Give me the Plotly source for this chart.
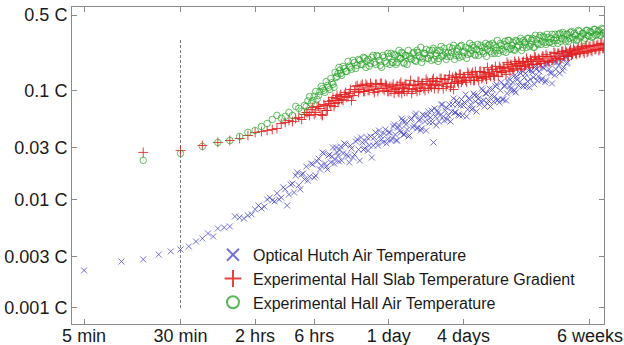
import plotly.graph_objects as go

# ---------------------------------------------------------------------------
# Averaging time (hours), main grid shared by the two Experimental Hall series
# ---------------------------------------------------------------------------
tau_early = [0.25, 0.5, 0.75, 1, 1.25, 1.5, 1.75, 2, 2.25, 2.5, 2.75, 3, 3.25, 3.5,
             3.75, 4, 4.25, 4.5, 4.75, 5]
tau_mid = [5.33, 5.67, 6, 6.33, 6.67, 7, 7.33, 7.67, 8, 8.33, 8.67, 9, 9.33, 9.67, 10,
           10.5, 11, 11.5, 12, 12.67, 13.33, 14, 14.67, 15.33, 16, 16.67, 17.5, 18.33,
           19.17, 20, 21, 22, 23, 24]
tau_long = [25, 26, 27, 28, 29, 30, 31, 32, 33, 34.5, 36, 37.5, 39, 40.5, 42, 43.5, 45,
            47, 49, 51, 53, 55, 57, 59, 61, 63.5, 66, 68.5, 71, 74, 77, 80, 83, 86, 89,
            92.5, 96, 100, 104, 108, 112, 116, 120, 125, 130, 135, 140, 145, 150, 156,
            162, 168, 174, 180, 187, 194, 201, 208, 216, 224, 232, 240, 249, 258, 268,
            278, 288, 299, 310, 322, 334, 346, 359, 372, 386, 400, 415, 430, 446, 463,
            480, 498, 516, 535, 555, 576, 597, 619, 642, 666, 690, 716, 742, 770, 798,
            828, 858, 890, 923, 957, 992, 1029, 1067, 1106, 1147, 1190, 1234, 1280, 1310]
tau = tau_early + tau_mid + tau_long

# Intermediate averaging times (hours)
tau_mid_b = [5.17, 5.5, 5.83, 6.17, 6.5, 6.83, 7.17, 7.5, 7.83, 8.17, 8.5, 8.83, 9.17,
             9.5, 9.83, 10.25, 10.75, 11.25, 11.75, 12.33, 13, 13.67, 14.33, 15, 15.67,
             16.33, 17.08, 17.92, 18.75, 19.58, 20.5, 21.5, 22.5, 23.5, 24.5]
tau_long_b = [25.5, 26.5, 27.5, 28.5, 29.5, 30.5, 31.5, 32.5, 33.7, 35.2, 36.7, 38.2,
              39.7, 41.2, 42.7, 44.2, 46, 48, 50, 52, 54, 56, 58, 60, 62.2, 64.7, 67.2,
              69.7, 72.5, 75.5, 78.5, 81.5, 84.5, 87.5, 90.7, 94.2, 98, 102, 106, 110,
              114, 118, 122.5, 127.5, 132.5, 137.5, 142.5, 147.5, 153, 159, 165, 171,
              177, 183.5, 190.5, 197.5, 204.5, 212, 220, 228, 236, 244.5, 253.5, 263,
              273, 283, 293.5, 304.5, 316, 328, 340, 352.5, 365.5, 379, 393, 407.5,
              422.5, 438, 454.5, 471.5, 489, 507, 525.5, 545, 565.5, 586.5, 608, 630.5,
              654, 678, 703, 729, 756, 784, 813, 843, 874, 906.5, 940, 974.5, 1010.5,
              1048, 1086.5, 1126.5, 1168.5, 1212, 1257, 1295]

# ---------------------------------------------------------------------------
# Experimental Hall Air Temperature (C)
# ---------------------------------------------------------------------------
hall_air_early = [0.0229, 0.0265, 0.0308, 0.0335, 0.0349, 0.0381, 0.0415, 0.0432, 0.047,
                  0.050, 0.0546, 0.0595, 0.056, 0.0583, 0.0634, 0.0595, 0.072, 0.069,
                  0.0648, 0.0735]
hall_air_mid = [0.081, 0.0767, 0.0891, 0.0836, 0.0985, 0.105, 0.097, 0.112, 0.103, 0.119,
                0.108, 0.133, 0.145, 0.155, 0.139, 0.161, 0.151, 0.169, 0.158, 0.183,
                0.172, 0.191, 0.175, 0.200, 0.188, 0.169, 0.204, 0.183, 0.212, 0.191,
                0.165, 0.204, 0.180, 0.208]
hall_air_long = [0.2216, 0.183, 0.2125, 0.183, 0.236, 0.1993, 0.2216, 0.179, 0.2125, 0.236,
                 0.1993, 0.2216, 0.191, 0.236, 0.2125, 0.252, 0.1993, 0.2216, 0.1993, 0.236,
                 0.191, 0.2465, 0.2125, 0.236, 0.1993, 0.257, 0.2125, 0.2264, 0.208, 0.252,
                 0.2264, 0.2626, 0.2125, 0.2465, 0.2036, 0.2626, 0.2264, 0.252, 0.217, 0.274,
                 0.236, 0.252, 0.2125, 0.268, 0.231, 0.252, 0.2216, 0.274, 0.241, 0.268,
                 0.2216, 0.2626, 0.236, 0.292, 0.236, 0.2626, 0.231, 0.286, 0.257, 0.292,
                 0.2465, 0.280, 0.236, 0.286, 0.2626, 0.3047, 0.252, 0.280, 0.252, 0.3047,
                 0.268, 0.3047, 0.252, 0.298, 0.268, 0.325, 0.286, 0.311, 0.268, 0.311,
                 0.280, 0.332, 0.292, 0.311, 0.274, 0.339, 0.3047, 0.332, 0.286, 0.332,
                 0.3047, 0.3535, 0.298, 0.325, 0.298, 0.3535, 0.318, 0.339, 0.3047, 0.361,
                 0.318, 0.346, 0.318, 0.369, 0.332, 0.361, 0.325, 0.369, 0.346]
hall_air_mid_b = [0.0718, 0.0888, 0.0816, 0.0988, 0.0907, 0.110, 0.101, 0.122, 0.108, 0.130,
                  0.115, 0.148, 0.136, 0.1646, 0.145, 0.168, 0.151, 0.187, 0.1646, 0.191,
                  0.161, 0.195, 0.1755, 0.2036, 0.1646, 0.195, 0.179, 0.2125, 0.1755, 0.208,
                  0.1718, 0.2125, 0.187, 0.2216, 0.1755]
hall_air_long_b = [0.183, 0.217, 0.1755, 0.208, 0.1993, 0.2264, 0.183, 0.2125, 0.1755, 0.208,
                   0.195, 0.2264, 0.187, 0.2264, 0.2036, 0.183, 0.2216, 0.241, 0.1993, 0.2125,
                   0.236, 0.195, 0.2216, 0.187, 0.236, 0.208, 0.2465, 0.195, 0.2264, 0.208,
                   0.2465, 0.195, 0.231, 0.2125, 0.257, 0.208, 0.231, 0.1993, 0.2465, 0.2216,
                   0.2626, 0.217, 0.241, 0.2125, 0.2626, 0.231, 0.252, 0.208, 0.2626, 0.231,
                   0.274, 0.2216, 0.252, 0.2216, 0.274, 0.241, 0.268, 0.2264, 0.292, 0.241,
                   0.2626, 0.241, 0.292, 0.252, 0.286, 0.236, 0.292, 0.268, 0.3047, 0.257,
                   0.292, 0.252, 0.325, 0.274, 0.311, 0.268, 0.318, 0.280, 0.332, 0.280,
                   0.3047, 0.274, 0.332, 0.292, 0.332, 0.286, 0.346, 0.298, 0.332, 0.286,
                   0.346, 0.311, 0.339, 0.292, 0.361, 0.311, 0.339, 0.292, 0.361, 0.325,
                   0.3535, 0.311, 0.369, 0.325, 0.3535, 0.325, 0.377, 0.339]

# ---------------------------------------------------------------------------
# Experimental Hall Slab Temperature Gradient (C)
# ---------------------------------------------------------------------------
slab_early = [0.0271, 0.0282, 0.0314, 0.0335, 0.0349, 0.0364, 0.0388, 0.0414, 0.0422,
              0.0431, 0.0441, 0.045, 0.050, 0.0511, 0.0533, 0.0522, 0.0557, 0.0569,
              0.0545, 0.0606]
slab_mid = [0.0632, 0.0674, 0.0606, 0.0718, 0.0688, 0.0593, 0.0734, 0.066, 0.0765, 0.0816,
            0.0718, 0.0851, 0.0782, 0.0888, 0.0833, 0.0927, 0.0869, 0.0947, 0.0816, 0.0988,
            0.112, 0.103, 0.115, 0.0988, 0.112, 0.101, 0.110, 0.0967, 0.115, 0.105,
            0.117, 0.101, 0.112, 0.0988]
slab_long = [0.0988, 0.115, 0.103, 0.112, 0.0967, 0.120, 0.108, 0.0988, 0.115, 0.105,
             0.125, 0.103, 0.112, 0.0988, 0.122, 0.108, 0.117, 0.101, 0.122, 0.115,
             0.108, 0.130, 0.115, 0.122, 0.112, 0.130, 0.105, 0.128, 0.117, 0.139,
             0.117, 0.103, 0.136, 0.122, 0.142, 0.120, 0.133, 0.125, 0.148, 0.133,
             0.142, 0.125, 0.151, 0.133, 0.151, 0.130, 0.148, 0.136, 0.1646, 0.142,
             0.158, 0.139, 0.168, 0.151, 0.168, 0.148, 0.1646, 0.1545, 0.183, 0.161,
             0.1755, 0.158, 0.187, 0.1718, 0.187, 0.168, 0.183, 0.168, 0.1993, 0.1755,
             0.195, 0.1755, 0.208, 0.187, 0.1993, 0.179, 0.208, 0.187, 0.217, 0.187,
             0.208, 0.191, 0.2264, 0.1993, 0.2216, 0.195, 0.231, 0.208, 0.236, 0.208,
             0.231, 0.2125, 0.2465, 0.2216, 0.241, 0.2216, 0.257, 0.231, 0.252, 0.2264,
             0.257, 0.236, 0.2626, 0.241, 0.2626, 0.236, 0.274, 0.2465, 0.268]
slab_mid_b = [0.0632, 0.0593, 0.0703, 0.0632, 0.0718, 0.0606, 0.0749, 0.066, 0.0799, 0.0734,
              0.0869, 0.0765, 0.0907, 0.0816, 0.0927, 0.0816, 0.0967, 0.0888, 0.103, 0.0907,
              0.110, 0.0967, 0.112, 0.0988, 0.115, 0.101, 0.117, 0.103, 0.115, 0.0988,
              0.117, 0.105, 0.115, 0.0988, 0.110]
slab_long_b = [0.108, 0.0947, 0.105, 0.0988, 0.115, 0.0947, 0.105, 0.115, 0.0988, 0.112,
               0.0947, 0.115, 0.105, 0.122, 0.101, 0.115, 0.105, 0.128, 0.105, 0.112,
               0.125, 0.105, 0.122, 0.105, 0.130, 0.115, 0.128, 0.110, 0.128, 0.108,
               0.133, 0.120, 0.133, 0.117, 0.142, 0.125, 0.133, 0.120, 0.142, 0.125,
               0.148, 0.125, 0.136, 0.125, 0.151, 0.133, 0.148, 0.128, 0.145, 0.136,
               0.158, 0.136, 0.151, 0.136, 0.161, 0.148, 0.1646, 0.142, 0.1755, 0.151,
               0.168, 0.1545, 0.179, 0.161, 0.179, 0.158, 0.187, 0.1718, 0.187, 0.1646,
               0.187, 0.1755, 0.2036, 0.1755, 0.195, 0.179, 0.208, 0.187, 0.208, 0.183,
               0.208, 0.191, 0.2216, 0.1993, 0.2216, 0.1993, 0.231, 0.208, 0.2264, 0.208,
               0.241, 0.217, 0.236, 0.217, 0.252, 0.2264, 0.2465, 0.2216, 0.2626, 0.231,
               0.257, 0.231, 0.2626, 0.241, 0.268, 0.241, 0.274, 0.2465]

# ---------------------------------------------------------------------------
# Optical Hutch Air Temperature (C)
# ---------------------------------------------------------------------------
hutch_short_tau = [0.0833, 0.1667, 0.25, 0.3333, 0.4167, 0.5, 0.5833, 0.6667, 0.75,
                   0.8333, 0.9167, 1.0]
hutch_short = [0.00222, 0.00268, 0.0028, 0.00311, 0.00332, 0.00346, 0.00369, 0.0041,
               0.00437, 0.00486, 0.00456, 0.0054]
hutch_extra_tau = [1.125, 1.375, 1.625, 1.875, 2.125, 2.375, 2.625, 2.875, 3.125, 3.375,
                   3.625, 3.875, 4.125, 4.375, 4.625, 4.875]
hutch_extra = [0.00552, 0.00697, 0.00668, 0.00728, 0.0088, 0.0086, 0.0104, 0.0096, 0.0100,
               0.0129, 0.0088, 0.0137, 0.0116, 0.0177, 0.0124, 0.0173]
hutch_early = [0.00564, 0.00682, 0.00712, 0.00809, 0.00826, 0.0100, 0.0098, 0.0114,
               0.0104, 0.0124, 0.0111, 0.0140, 0.0166, 0.0135, 0.0170, 0.0153]
hutch_mid = [0.0149, 0.0214, 0.0159, 0.0224, 0.0189, 0.0271, 0.0214, 0.0189, 0.0259,
             0.0249, 0.0214, 0.0301, 0.0254, 0.0288, 0.0228, 0.0328, 0.0259, 0.0219,
             0.0295, 0.0259, 0.0357, 0.0228, 0.0335, 0.0295, 0.0372, 0.0314, 0.0243,
             0.0372, 0.0335, 0.0431, 0.0357, 0.0405, 0.0328, 0.0414]
hutch_long = [0.0349, 0.0470, 0.0396, 0.0349, 0.0480, 0.0414, 0.0533, 0.0396, 0.049, 0.038,
              0.0545, 0.046, 0.0593, 0.045, 0.0533, 0.0431, 0.0606, 0.0522, 0.0593, 0.0511,
              0.066, 0.0335, 0.0581, 0.066, 0.0522, 0.0749, 0.0581, 0.066, 0.0545, 0.0749,
              0.0646, 0.0851, 0.0632, 0.0749, 0.0593, 0.0833, 0.0734, 0.0927, 0.0674, 0.0833,
              0.0674, 0.0947, 0.0799, 0.0907, 0.0749, 0.105, 0.0816, 0.0947, 0.0765, 0.105,
              0.0907, 0.0799, 0.110, 0.0816, 0.0782, 0.120, 0.0833, 0.112, 0.0947, 0.130,
              0.105, 0.120, 0.101, 0.136, 0.112, 0.145, 0.112, 0.133, 0.110, 0.1545,
              0.128, 0.148, 0.115, 0.158, 0.136, 0.1718, 0.130, 0.161, 0.125, 0.179,
              0.148, 0.117, 0.183, 0.158, 0.1993, 0.145, 0.187, 0.1646, 0.208, 0.183,
              0.217]
hutch_mid_b = [0.0201, 0.0163, 0.021, 0.0166, 0.0238, 0.0205, 0.0265, 0.0201, 0.0254, 0.0219,
               0.0301, 0.0233, 0.0271, 0.0224, 0.0307, 0.0265, 0.0321, 0.0249, 0.0314, 0.0243,
               0.0342, 0.0288, 0.0372, 0.0288, 0.0342, 0.0282, 0.038, 0.0314, 0.0414, 0.0314,
               0.0388, 0.0335, 0.0441, 0.0357, 0.0414]
hutch_long_b = [0.0364, 0.049, 0.0349, 0.046, 0.0431, 0.0557, 0.0396, 0.0522, 0.0441, 0.0388,
                0.0557, 0.048, 0.0619, 0.046, 0.0545, 0.045, 0.0593, 0.0431, 0.0646, 0.0569,
                0.0511, 0.0688, 0.048, 0.0632, 0.0593, 0.0749, 0.0533, 0.0703, 0.0593, 0.0522,
                0.0749, 0.0632, 0.0816, 0.0606, 0.0734, 0.0593, 0.0782, 0.0581, 0.0851, 0.0749,
                0.0688, 0.0907, 0.0646, 0.0851, 0.0799, 0.101, 0.0718, 0.0947, 0.0816, 0.0718,
                0.103, 0.0888, 0.115, 0.0833, 0.101, 0.0833, 0.110, 0.0816, 0.122, 0.110,
                0.0988, 0.136, 0.0967, 0.128, 0.120, 0.1545, 0.110, 0.145, 0.122, 0.108,
                0.1545, 0.133, 0.168, 0.125, 0.151, 0.125, 0.1646, 0.120, 0.179, 0.158,
                0.145, 0.195, 0.139, 0.183, 0.1718, 0.2216, 0.1545, 0.208, 0.179, 0.217]

# Assemble each series: main grid first, then the intermediate averaging times
hutch_rest = hutch_early + hutch_mid + hutch_long
hutch_tau = (hutch_short_tau + tau[4:4 + len(hutch_rest)] + hutch_extra_tau
             + tau_mid_b + tau_long_b[:len(hutch_long_b)])
hutch = hutch_short + hutch_rest + hutch_extra + hutch_mid_b + hutch_long_b

slab_tau = tau + tau_mid_b + tau_long_b
slab = slab_early + slab_mid + slab_long + slab_mid_b + slab_long_b

hall_air_tau = tau + tau_mid_b + tau_long_b
hall_air = hall_air_early + hall_air_mid + hall_air_long + hall_air_mid_b + hall_air_long_b

# Axis ticks (hours)
x_ticks = [5 / 60, 0.5, 2, 6, 24, 96, 1008]
x_labels = ["5 min", "30 min", "2 hrs", "6 hrs", "1 day", "4 days", "6 weeks"]
y_ticks = [0.001, 0.003, 0.01, 0.03, 0.1, 0.5]
y_labels = ["0.001 C", "0.003 C", "0.01 C", "0.03 C", "0.1 C", "0.5 C"]

# 30-minute marker line
marker_tau = [0.5, 0.5]
marker_span = [0.001, 0.3]

FONT = "Liberation Sans, Arial, Helvetica, sans-serif"
AXIS_GREY = "#8a8a8a"
BLUE = "rgba(60,60,200,0.72)"
RED = "rgba(228,32,32,0.85)"
GREEN = "rgba(45,165,45,0.8)"

fig = go.Figure()

fig.add_trace(go.Scatter(
    x=marker_tau, y=marker_span, mode="lines", showlegend=False, hoverinfo="skip",
    line=dict(color="#7a7a7a", width=1, dash="3px,2px"),
))
fig.add_trace(go.Scatter(
    x=hutch_tau, y=hutch, mode="markers", name="Optical Hutch Air Temperature",
    marker=dict(symbol="x-thin-open", size=6, color=BLUE, line=dict(width=1, color=BLUE)),
))
fig.add_trace(go.Scatter(
    x=slab_tau, y=slab, mode="markers", name="Experimental Hall Slab Temperature Gradient",
    marker=dict(symbol="cross-thin-open", size=7, color=RED, line=dict(width=1, color=RED)),
))
fig.add_trace(go.Scatter(
    x=hall_air_tau, y=hall_air, mode="markers", name="Experimental Hall Air Temperature",
    marker=dict(symbol="circle-open", size=6.5, color=GREEN, line=dict(width=0.9, color=GREEN)),
))

axis_common = dict(
    showline=True, linecolor=AXIS_GREY, linewidth=1, mirror="ticks",
    ticks="inside", ticklen=5, tickcolor=AXIS_GREY, tickwidth=1,
    showgrid=False, zeroline=False, tickmode="array", automargin=False,
    tickfont=dict(family=FONT, size=18, color="#1a1a1a"),
)

fig.update_xaxes(type="log", range=[-1.177, 3.117], tickvals=x_ticks,
                 ticktext=x_labels, ticklabelstandoff=-5, **axis_common)
fig.update_yaxes(type="log", range=[-3.1475, -0.2273], tickvals=y_ticks,
                 ticktext=y_labels, **axis_common)

fig.update_layout(
    width=624, height=345,
    margin=dict(l=72, r=20, t=7, b=21),
    paper_bgcolor="white", plot_bgcolor="white",
    font=dict(family=FONT, color="#1a1a1a"),
    showlegend=True,
    legend=dict(
        x=0.265, y=0.272, xanchor="left", yanchor="top",
        bgcolor="rgba(0,0,0,0)", borderwidth=0,
        font=dict(family=FONT, size=16, color="#1a1a1a"),
        itemsizing="constant", tracegroupgap=0,
    ),
)

fig.write_html("out.html")
